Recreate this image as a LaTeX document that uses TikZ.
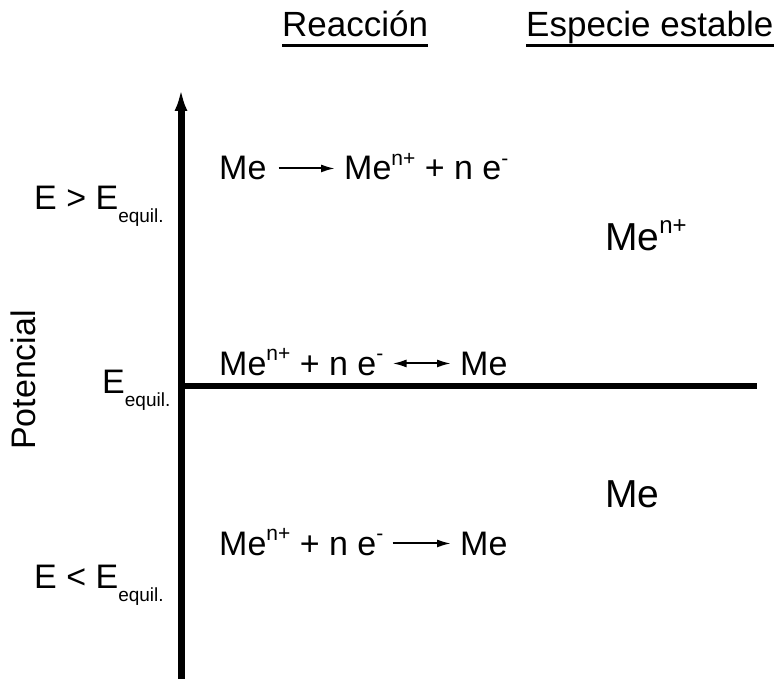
\documentclass[tikz,border=0pt]{standalone}
\usepackage{fontspec}
\setmainfont{Liberation Sans}
\usetikzlibrary{arrows.meta}
\newcommand{\hoch}[2][21]{\raisebox{0.44em}{\fontsize{#1}{#1}\selectfont #2}}
\newcommand{\tief}[1]{\raisebox{-13pt}{\fontsize{19}{19}\selectfont #1}}
\tikzset{potdiag/.style={x=1pt,y=-1pt,font=\fontsize{34}{40}\selectfont},
  txt/.style={anchor=base west,inner sep=0pt},
  hdr/.style={txt,font=\fontsize{35}{40}\selectfont},
  spec/.style={txt,font=\fontsize{39}{44}\selectfont},
  rxn/.style={->,>={Latex[length=14pt,width=8pt]},line width=2pt},
  rxnb/.style={rxn,<->},
  uline/.style={line width=3pt}}

\begin{document}
\begin{tikzpicture}[potdiag]
    \useasboundingbox (0,0) rectangle (777,679);
    \coordinate (axtop) at (181,89);
    \coordinate (axbot) at (181,679);
    \coordinate (eqL) at (181,386);
    \coordinate (eqR) at (757,386);
    \draw[line width=7pt,-{Latex[length=22pt,width=13pt]}] (axbot) -- (axtop);   % potential axis
    \draw[line width=6pt] (eqL) -- (eqR);                                         % E equil.
    \node[hdr] (hdrA) at (282,37) {Reacción};
    \node[hdr] (hdrB) at (526,37) {Especie estable};
    \draw[uline] ([yshift=-9pt]hdrA.base west) -- ([yshift=-9pt]hdrA.base east);
    \draw[uline] ([yshift=-9pt]hdrB.base west) -- ([yshift=-9pt]hdrB.base east);
    \node[rotate=90,anchor=base,inner sep=0pt] (pot) at (35,380) {Potencial};
    \node[txt] (gt) at (34,210) {E > E\tief{equil.}};
    \node[txt] (eq) at (102,393) {E\tief{equil.}};
    \node[txt] (lt) at (34,588) {E < E\tief{equil.}};
    % oxidation
    \node[txt] (meA) at (219,180) {Me};
    \node[txt] (ionA) at (344,180) {Me\hoch{n+} + n e\hoch{-}};
    \draw[rxn,shorten <=12pt,shorten >=9pt] (meA.east) -- (meA.east -| ionA.west);
    % equilibrium
    \node[txt] (ionB) at (219,375) {Me\hoch{n+} + n e\hoch{-}};
    \node[txt] (meB) at (460,375) {Me};
    \draw[rxnb,shorten <=9pt,shorten >=9pt] (meB.west -| ionB.east) -- (meB.west);
    % reduction
    \node[txt] (ionC) at (219,555) {Me\hoch{n+} + n e\hoch{-}};
    \node[txt] (meC) at (460,555) {Me};
    \draw[rxn,shorten <=9pt,shorten >=9pt] (meC.west -| ionC.east) -- (meC.west);
    % stable species
    \node[spec] (spA) at (605,251) {Me\hoch[24]{n+}};
    \node[spec] (spB) at (605,507) {Me};
\end{tikzpicture}
\end{document}
